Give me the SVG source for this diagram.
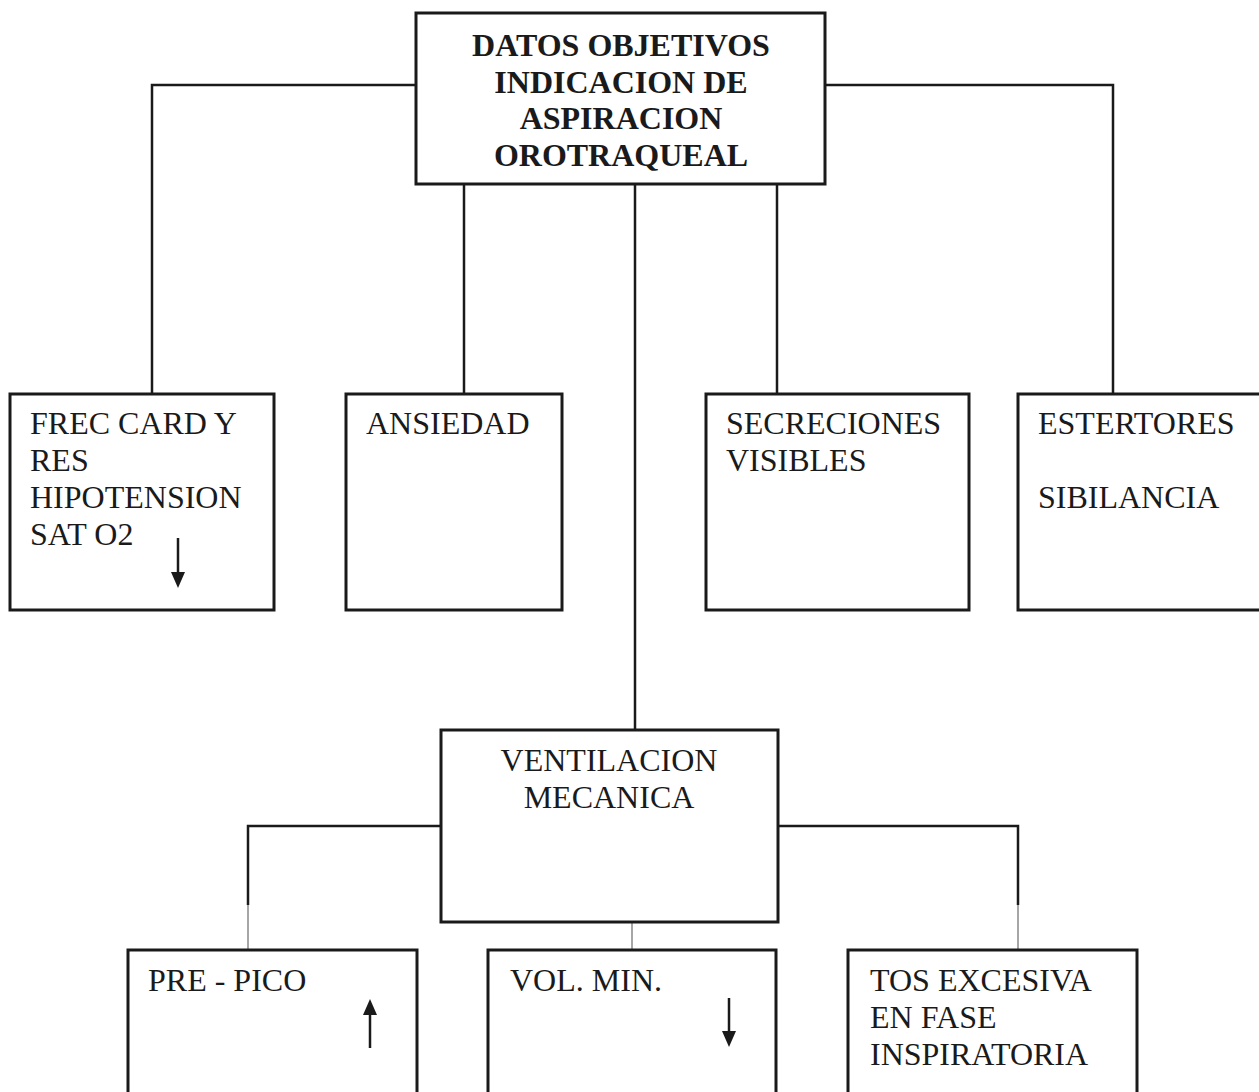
<svg xmlns="http://www.w3.org/2000/svg" width="1259" height="1092" viewBox="0 0 1259 1092">
<defs>
<style>
.box{fill:#fff;stroke:#1a1a1a;stroke-width:3}
.ln{fill:none;stroke:#1a1a1a;stroke-width:2.5}
.thin{fill:none;stroke:#888;stroke-width:1.5}
.t{font-family:"Liberation Serif",serif;font-size:32px;fill:#1a1a1a}
.tb{font-family:"Liberation Serif",serif;font-size:32px;font-weight:bold;fill:#1a1a1a;text-anchor:middle}
.ar{fill:none;stroke:#1a1a1a;stroke-width:2.5}
</style>
</defs>
<rect width="1259" height="1092" fill="#fff"/>
<g id="connectors">
<polyline class="ln" points="416,85 152,85 152,395"/>
<polyline class="ln" points="825,85 1113,85 1113,395"/>
<line class="ln" x1="464" y1="184" x2="464" y2="395"/>
<line class="ln" x1="635" y1="184" x2="635" y2="730"/>
<line class="ln" x1="777" y1="184" x2="777" y2="395"/>
<polyline class="ln" points="441,826 248,826 248,905"/>
<line class="thin" x1="248" y1="905" x2="248" y2="950"/>
<polyline class="ln" points="778,826 1018,826 1018,905"/>
<line class="thin" x1="1018" y1="905" x2="1018" y2="950"/>
<line class="thin" x1="632" y1="922" x2="632" y2="950"/>
</g>
<g id="n-top">
<rect class="box" x="416" y="13" width="409" height="171"/>
<text class="tb" x="621" y="56">DATOS OBJETIVOS</text>
<text class="tb" x="621" y="93">INDICACION DE</text>
<text class="tb" x="621" y="129">ASPIRACION</text>
<text class="tb" x="621" y="166">OROTRAQUEAL</text>
</g>
<g id="n-frec">
<rect class="box" x="10" y="394" width="264" height="216"/>
<text class="t" x="30" y="434">FREC CARD Y</text>
<text class="t" x="30" y="471">RES</text>
<text class="t" x="30" y="508">HIPOTENSION</text>
<text class="t" x="30" y="545">SAT O2</text>
<path class="ar" d="M178,538 V575"/>
<path d="M171,572 L185,572 L178,588 z" fill="#1a1a1a"/>
</g>
<g id="n-ansiedad">
<rect class="box" x="346" y="394" width="216" height="216"/>
<text class="t" x="366" y="434">ANSIEDAD</text>
</g>
<g id="n-secreciones">
<rect class="box" x="706" y="394" width="263" height="216"/>
<text class="t" x="726" y="434">SECRECIONES</text>
<text class="t" x="726" y="471">VISIBLES</text>
</g>
<g id="n-estertores">
<rect class="box" x="1018" y="394" width="245" height="216"/>
<text class="t" x="1038" y="434">ESTERTORES</text>
<text class="t" x="1038" y="508">SIBILANCIA</text>
</g>
<g id="n-ventilacion">
<rect class="box" x="441" y="730" width="337" height="192"/>
<text class="t" x="609" y="771" text-anchor="middle">VENTILACION</text>
<text class="t" x="609" y="808" text-anchor="middle">MECANICA</text>
</g>
<g id="n-prepico">
<rect class="box" x="128" y="950" width="289" height="150"/>
<text class="t" x="148" y="991">PRE - PICO</text>
<path class="ar" d="M370,1048 V1012"/>
<path d="M363,1015 L377,1015 L370,999 z" fill="#1a1a1a"/>
</g>
<g id="n-volmin">
<rect class="box" x="488" y="950" width="288" height="150"/>
<text class="t" x="510" y="991">VOL. MIN.</text>
<path class="ar" d="M729,998 V1034"/>
<path d="M722,1031 L736,1031 L729,1047 z" fill="#1a1a1a"/>
</g>
<g id="n-tos">
<rect class="box" x="848" y="950" width="289" height="150"/>
<text class="t" x="870" y="991">TOS EXCESIVA</text>
<text class="t" x="870" y="1028">EN FASE</text>
<text class="t" x="870" y="1065">INSPIRATORIA</text>
</g>
</svg>
